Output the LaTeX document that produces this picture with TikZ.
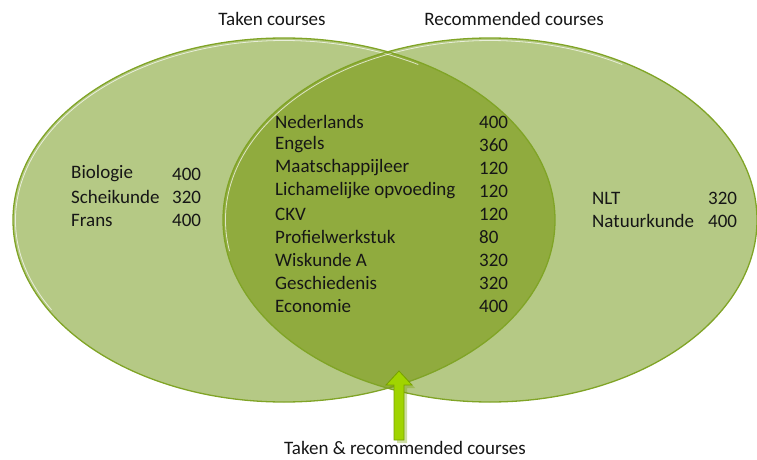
\documentclass[tikz,border=0pt]{standalone}
\usepackage{fontspec}
\usetikzlibrary{calc}
\setmainfont{Carlito}
\definecolor{vlight}{RGB}{181,201,133}
\definecolor{vdark}{RGB}{144,171,62}
\definecolor{vline}{RGB}{128,164,38}
\definecolor{arrowfill}{RGB}{160,212,0}
\definecolor{arrowline}{RGB}{118,160,0}
\definecolor{txt}{RGB}{22,22,22}
\tikzset{
  lbl/.style={inner sep=0pt, anchor=west, text=txt, font=\fontsize{19}{23}\selectfont},
  ttl/.style={inner sep=0pt, text=txt, font=\fontsize{19}{23}\selectfont},
  outline/.style={draw=vline, line width=1.3pt},
  glow/.style={white, opacity=0.7, line width=0.8pt},
}
\begin{document}
\begin{tikzpicture}[x=1pt,y=-1pt]
\useasboundingbox (0,0) rectangle (757,460);
\coordinate (L) at (284,220);
\coordinate (R) at (490,220);
% fills
\fill[vlight] (L) ellipse [x radius=271, y radius=182];
\fill[vlight] (R) ellipse [x radius=267, y radius=182];
\begin{scope}
  \clip (L) ellipse [x radius=271, y radius=182];
  \fill[vdark] (R) ellipse [x radius=267, y radius=182];
\end{scope}
% white inner highlight (upper-left part)
\draw[glow] (L) ++({268.5*cos(150)},{179.5*sin(150)})
  arc[start angle=150, end angle=300, x radius=268.5, y radius=179.5];
\draw[glow] (R) ++({264.5*cos(170)},{179.5*sin(170)})
  arc[start angle=170, end angle=300, x radius=264.5, y radius=179.5];
\draw[outline] (L) ellipse [x radius=271, y radius=182];
\draw[outline] (R) ellipse [x radius=267, y radius=182];

% titles
\node[ttl] (t1) at (272,19) {Taken courses};
\node[ttl] (t2) at (514,19) {Recommended courses};
\node[ttl] (t3) at (405,448) {Taken \& recommended courses};

% left list
\node[lbl] (b1) at (71,174) {Biologie};
\node[lbl] (b2) at (71,197) {Scheikunde};
\node[lbl] (b3) at (71,220) {Frans};
\node[lbl] (bn1) at (172,174) {400};
\node[lbl] (bn2) at (172,197) {320};
\node[lbl] (bn3) at (172,220) {400};

% right list
\node[lbl] (r1) at (592,198) {NLT};
\node[lbl] (r2) at (592,221) {Natuurkunde};
\node[lbl] (rn1) at (708,198) {320};
\node[lbl] (rn2) at (708,221) {400};

% center list
\foreach \name/\num [count=\i] in {Nederlands/400, Engels/360, Maatschappijleer/120,
  Lichamelijke opvoeding/120, CKV/120, Profielwerkstuk/80, Wiskunde A/320,
  Geschiedenis/320, Economie/400}{
  \node[lbl] (c\i) at (275,{122+(\i-1)*23}) {\name};
  \node[lbl] (cn\i) at (479,{122+(\i-1)*23}) {\num};
}

% arrow
\coordinate (tip) at (399,371);
\fill[arrowline, opacity=0.35] ($(tip)+(3,3)$) -- ++(13,14) -- ++(-8,0) -- ++(0,55) -- ++(-10,0) -- ++(0,-55) -- ++(-8,0) -- cycle;
\draw[arrowline, fill=arrowfill, line width=0.8pt, line join=miter]
  (tip) -- ++(13,14) -- ++(-8,0) -- ++(0,55) -- ++(-10,0) -- ++(0,-55) -- ++(-8,0) -- cycle;
\end{tikzpicture}
\end{document}
